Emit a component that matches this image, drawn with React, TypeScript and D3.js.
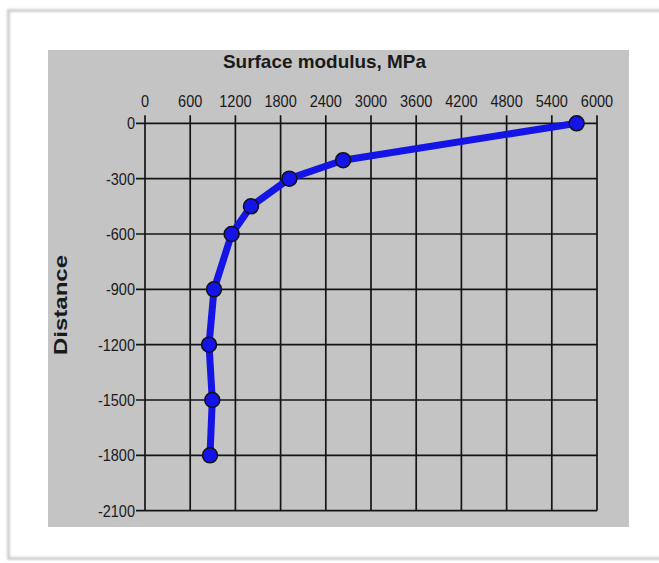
import React from "react";
import * as d3 from "d3";

const modulusMPa = [5730, 2630, 1916, 1407, 1150, 916, 850, 893, 863];
const distance = [0, -200, -300, -450, -600, -900, -1200, -1500, -1800];
const xTicks = [0, 600, 1200, 1800, 2400, 3000, 3600, 4200, 4800, 5400, 6000];
const yTicks = [0, -300, -600, -900, -1200, -1500, -1800, -2100];
const xTitle = "Surface modulus, MPa";
const yTitle = "Distance";

export default function App() {
  const W = 659, H = 563;
  const x = d3.scaleLinear().domain([0, 6000]).range([145, 597]);
  const y = d3.scaleLinear().domain([0, -2100]).range([123.3, 510.7]);
  const pts = modulusMPa.map((m, i) => [m, distance[i]] as [number, number]);
  const line = d3.line<[number, number]>().x(d => x(d[0])).y(d => y(d[1]));
  const font = "'Liberation Sans', Arial, sans-serif";
  const gridColor = "#141414";
  const sx = 0.88;
  return (
    <svg width={W} height={H} style={{ position: "absolute", left: 0, top: 0 }} fontFamily={font}>
      <defs>
        <filter id="blur" x="-5%" y="-5%" width="110%" height="110%">
          <feGaussianBlur stdDeviation="1" />
        </filter>
      </defs>
      <rect x={0} y={0} width={W} height={H} fill="#ffffff" />
      <rect x={8.5} y={10.5} width={700} height={548} fill="none" stroke="#cfcfcf" strokeWidth={3} filter="url(#blur)" />
      <rect x={48} y={50} width={581} height={477} fill="#c4c4c4" />
      {xTicks.map(t => (
        <line key={"gx" + t} x1={x(t)} x2={x(t)} y1={y(0) - 8} y2={y(-2100)} stroke={gridColor} strokeWidth={1.7} />
      ))}
      {yTicks.map(t => (
        <line key={"gy" + t} x1={x(0) - 9} x2={x(6000)} y1={y(t)} y2={y(t)} stroke={gridColor} strokeWidth={1.7} />
      ))}
      {xTicks.map(t => (
        <text key={"tx" + t} transform={`translate(${x(t)},106.5) scale(${sx},1)`} textAnchor="middle" fontSize={16.5} fill="#1a1a1a">{t}</text>
      ))}
      {yTicks.map(t => (
        <text key={"ty" + t} transform={`translate(135,${y(t)}) scale(${sx},1)`} dy="0.36em" textAnchor="end" fontSize={16.5} fill="#1a1a1a">{t === 0 ? "0" : "-" + Math.abs(t)}</text>
      ))}
      <text x={324.5} y={68} textAnchor="middle" fontSize={19} fontWeight="bold" fill="#1a1a1a" textLength={203} lengthAdjust="spacingAndGlyphs">{xTitle}</text>
      <text transform={`translate(67,305) rotate(-90)`} textAnchor="middle" fontSize={17.5} fontWeight="bold" fill="#1a1a1a" textLength={100} lengthAdjust="spacingAndGlyphs">{yTitle}</text>
      <path d={line(pts) || ""} fill="none" stroke="#1414e6" strokeWidth={7} strokeLinejoin="round" />
      {pts.map((p, i) => (
        <circle key={"p" + i} cx={x(p[0])} cy={y(p[1])} r={7.5} fill="#1414e6" stroke="#111" strokeWidth={1.5} />
      ))}
    </svg>
  );
}
